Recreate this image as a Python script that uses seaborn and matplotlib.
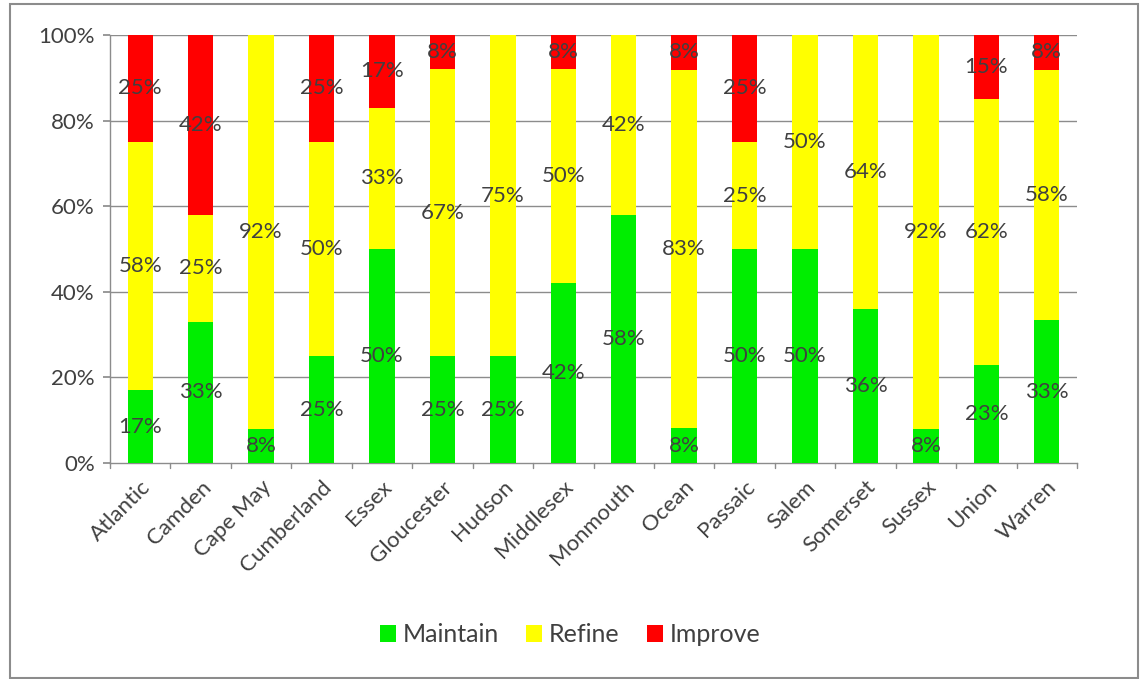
import matplotlib
matplotlib.use("Agg")
import matplotlib.pyplot as plt
import seaborn as sns
import pandas as pd
import numpy as np
from matplotlib.patches import Rectangle

counties = ["Atlantic", "Camden", "Cape May", "Cumberland", "Essex", "Gloucester",
            "Hudson", "Middlesex", "Monmouth", "Ocean", "Passaic", "Salem",
            "Somerset", "Sussex", "Union", "Warren"]
maintain = [17, 33, 8, 25, 50, 25, 25, 42, 58, 8, 50, 50, 36, 8, 23, 33]
refine = [58, 25, 92, 50, 33, 67, 75, 50, 42, 83, 25, 50, 64, 92, 62, 58]
improve = [25, 42, 0, 25, 17, 8, 0, 8, 0, 8, 25, 0, 0, 0, 15, 8]
y_ticks = [0, 20, 40, 60, 80, 100]

series = ["Maintain", "Refine", "Improve"]
colors = {"Maintain": "#00EE00", "Refine": "#FFFF00", "Improve": "#FF0000"}

df = pd.DataFrame({"County": counties, "Maintain": maintain,
                   "Refine": refine, "Improve": improve})
totals = df[series].sum(axis=1)
share = df[series].div(totals, axis=0) * 100

sns.set_theme(style="white")
plt.rcParams["font.family"] = ["Lato", "DejaVu Sans"]

fig = plt.figure(figsize=(11.4, 6.79), dpi=100)
ax = fig.add_axes([110 / 1140, 1 - 463 / 679, 967 / 1140, 428 / 679])

text_col = "#404040"
axis_col = "#8c8c8c"

bottom = np.zeros(len(df))
for s in series:
    plot_df = pd.DataFrame({"County": counties, "v": share[s].values})
    sns.barplot(data=plot_df, x="County", y="v", color=colors[s], bottom=bottom,
                width=0.42, ax=ax, label=s, saturation=1, linewidth=0, zorder=3)
    for i, (raw, h) in enumerate(zip(df[s].values, share[s].values)):
        if raw > 0:
            ax.text(i, bottom[i] + h / 2, f"{raw}%", ha="center", va="center",
                    fontsize=16, color=text_col, zorder=4)
    bottom = bottom + share[s].values

handles, labels = ax.get_legend_handles_labels()
if ax.get_legend() is not None:
    ax.get_legend().remove()

ax.set_ylim(0, 100)
ax.set_xlim(-0.5, len(counties) - 0.5)
ax.set_yticks(y_ticks)
ax.set_yticklabels([f"{t}%" for t in y_ticks], fontsize=16, color=text_col)
ax.set_xticks(range(len(counties)))
ax.set_xticklabels(counties, rotation=45, ha="right", rotation_mode="anchor",
                   fontsize=16, color=text_col)
ax.set_xlabel("")
ax.set_ylabel("")

# horizontal gridlines
for t in y_ticks[1:]:
    ax.axhline(t, color=axis_col, lw=1, zorder=1)

# category separator ticks below the axis
ax.tick_params(axis="x", length=0, pad=10)
ax.tick_params(axis="y", length=5, color=axis_col, left=True, pad=6)
for b in np.arange(-0.5, len(counties), 1.0):
    ax.plot([b, b], [0, -1.2], color=axis_col, lw=1, clip_on=False, zorder=2)

for side in ["top", "right"]:
    ax.spines[side].set_visible(False)
for side in ["left", "bottom"]:
    ax.spines[side].set_color(axis_col)
    ax.spines[side].set_linewidth(1)

fig.legend(handles[:3], labels[:3], loc="center", bbox_to_anchor=(570 / 1140, 1 - 635 / 679),
           ncol=3, frameon=False, fontsize=18, handlelength=0.65, handleheight=0.65,
           handletextpad=0.25, columnspacing=1.1, labelcolor=text_col)

fig.patches.append(Rectangle((10 / 1140, 1 / 679), 1128 / 1140, 674 / 679,
                             transform=fig.transFigure, fill=False,
                             edgecolor="#8c8c8c", lw=1.5))

fig.savefig("out.png", dpi=100)
